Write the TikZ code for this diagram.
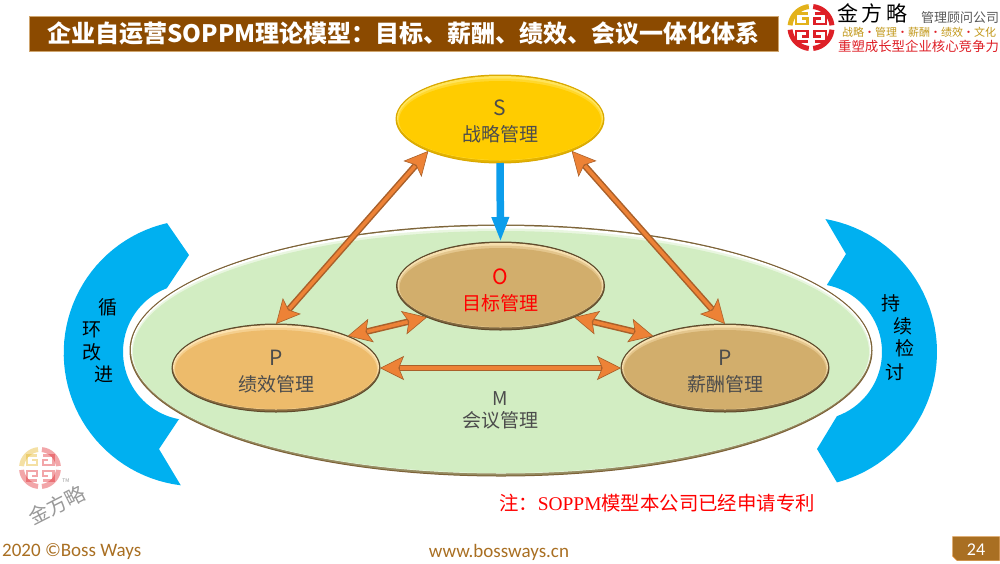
\documentclass[tikz,border=0pt]{standalone}
\usepackage{fontspec}
\setmainfont{Noto Sans CJK SC}
\newfontfamily\footfont{Carlito}
\newfontfamily\notefont{Liberation Serif}
\usetikzlibrary{shapes.geometric,arrows.meta}
\definecolor{barbrown}{HTML}{8B4A00}
\definecolor{baredge}{HTML}{CFA56E}
\definecolor{logogold}{HTML}{E3B21C}
\definecolor{logored}{HTML}{DE2027}
\definecolor{cyanblue}{HTML}{00B0F0}
\definecolor{footbrown}{HTML}{A96F22}
\definecolor{arrlight}{HTML}{ED8236}
\definecolor{arrdark}{HTML}{A9602A}
\definecolor{arrowblue}{HTML}{0C9DEB}
\definecolor{meetgreen}{HTML}{D2EDC2}
\definecolor{meetedge}{HTML}{7D6238}
\definecolor{stratyellow}{HTML}{FFCC00}
\definecolor{stratlight}{HTML}{FFE45C}
\definecolor{stratedge}{HTML}{D9A800}
\definecolor{tan}{HTML}{D2AE6C}
\definecolor{tanlight}{HTML}{F6DFAE}
\definecolor{ovaledge}{HTML}{5E4A2C}
\definecolor{perfgold}{HTML}{EDBB6B}
\definecolor{perflight}{HTML}{FCE2B0}
\newcommand{\ovalhead}[2]{\rule{0pt}{#1pt}{\fontsize{21}{26}\selectfont #2}}
\begin{document}
\begin{tikzpicture}[x=1pt, y=-1pt,
    txt/.style={font=\fontsize{19}{26}\selectfont, align=center, inner sep=0pt},
    bevel/.style n args={5}{ellipse, inner sep=0pt, outer sep=0pt, minimum width=2*#1pt, minimum height=2*#2pt,
      draw=#5, line width=1pt, txt,
      path picture={
        \coordinate (c) at (path picture bounding box.center);
        \fill[#5!70!#3] (path picture bounding box.south west) rectangle (path picture bounding box.north east);
        \fill[#4] ([yshift=1pt]c) ellipse [x radius=#1-1, y radius=#2-2];
        \fill[#3!50!#4] ([yshift=-0.5pt]c) ellipse [x radius=#1-2, y radius=#2-3];
        \fill[#3] ([yshift=-1.5pt]c) ellipse [x radius=#1-3, y radius=#2-4.5];
      }},
    arr/.style={{Stealth[length=24pt,width=24pt,inset=5pt,line width=0.6pt,fill=arrlight]}-{Stealth[length=24pt,width=24pt,inset=5pt,line width=0.6pt,fill=arrlight]},
      draw=arrdark, line width=6.5pt,
      postaction={draw=arrlight, line width=3.5pt, shorten >=20pt, shorten <=20pt, arrows=-}},
    cshape/.style={fill=cyanblue},
    logo/.pic={
      \foreach \sx/\sy/\c in {1/1/logogold,-1/1/logored,1/-1/logored,-1/-1/logored}{
        \begin{scope}[xscale=\sx, yscale=\sy]
          \draw[\c, line width=5pt] plot[domain=186:264, samples=16] ({21*cos(\x)},{21*sin(\x)});
          \draw[\c, line width=2.6pt, line cap=butt] (-3.5,-14) -- (-15,-14) -- (-15,-3.5) -- (-3.5,-3.5) -- (-3.5,-9) -- (-9.5,-9);
        \end{scope}
      }
    }]
    \useasboundingbox (0,0) rectangle (1000,563);

    \node[fill=barbrown, draw=baredge, line width=0.8pt, minimum width=749pt, minimum height=35pt, inner sep=0pt, text=white,
      font=\fontsize{24}{28}\selectfont\bfseries] (title) at (403.5,33.5) {企业自运营SOPPM理论模型：目标、薪酬、绩效、会议一体化体系};

    \pic at (811,27.5) {logo};
    \node[inner sep=0pt, font=\fontsize{21}{24}\selectfont] (brand) at (872,13) {金\,方\,略};
    \node[inner sep=0pt, text=black!65, font=\fontsize{13}{15}\selectfont] (firm) at (960,18) {管理顾问公司};
    \node[inner sep=0pt, text=logogold!85!black, font=\fontsize{11}{13}\selectfont] (slogan) at (919,32) {战略\textcolor{logored}{•}管理\textcolor{logored}{•}薪酬\textcolor{logored}{•}绩效\textcolor{logored}{•}文化};
    \node[inner sep=0pt, text=logored, font=\fontsize{13.4}{15}\selectfont] (motto) at (918.5,46) {重塑成长型企业核心竞争力};

    \begin{scope}[opacity=0.4]
      \pic[scale=0.88] at (40,468) {logo};
    \end{scope}
    \node[inner sep=0pt, text=black!40, rotate=27, font=\fontsize{20}{24}\selectfont] (mark) at (57,505) {金方略};
    \node[inner sep=0pt, text=black!40, font=\fontsize{5}{6}\selectfont] (tm) at (66,481) {TM};

    \fill[cshape] plot[domain=257:97, samples=50] ({197+133.3*cos(\x)},{353+133.3*sin(\x)})
      -- (159,449) -- (179,419)
      -- plot[domain=100:249, samples=40] ({191.3+68.3*cos(\x)},{352+68.3*sin(\x)})
      -- (189,255) -- cycle;
    \fill[cshape] plot[domain=-80:75, samples=50] ({802+135*cos(\x)},{352+135*sin(\x)})
      -- (817,449) -- (837,416)
      -- plot[domain=70:-79, samples=40] ({813.8+68.2*cos(\x)},{352+68.2*sin(\x)})
      -- (846,254) -- cycle;

    \node[txt] (c1) at (108,307) {循};
    \node[txt] (c2) at (92,330) {环};
    \node[txt] (c3) at (92,352) {改};
    \node[txt] (c4) at (104,374) {进};
    \node[txt] (k1) at (891,303) {持};
    \node[txt] (k2) at (903,326) {续};
    \node[txt] (k3) at (905,348) {检};
    \node[txt] (k4) at (895,372) {讨};

    \node[bevel={371}{125.5}{meetgreen}{white}{meetedge}] (ovalM) at (501,350.5) {};
    \node[txt, text=black!70] (labelM) at (500,410) {M\\[-4pt]会议管理};

    \node[bevel={104}{44}{stratyellow}{stratlight}{stratedge}, text=black!70] (ovalS) at (500,119) {\ovalhead{20}{S}\\战略管理};
    \node[bevel={104}{44}{tan}{tanlight}{ovaledge}, text=red] (ovalO) at (500.5,286) {\ovalhead{24}{O}\\目标管理};
    \node[bevel={104}{44}{perfgold}{perflight}{ovaledge}, text=black!70] (ovalP1) at (276,368) {\ovalhead{22}{P}\\绩效管理};
    \node[bevel={104}{44}{tan}{tanlight}{ovaledge}, text=black!70] (ovalP2) at (725,368) {\ovalhead{22}{P}\\薪酬管理};

    \draw[arr] (ovalS.204) -- (ovalP1.90);
    \draw[arr] (ovalS.336) -- (ovalP2.90);
    \draw[arr] (ovalO.203) -- (ovalP1.24);
    \draw[arr] (ovalO.337) -- (ovalP2.156);
    \draw[arr] (ovalP1.east) -- (ovalP2.west);
    \draw[arrowblue, line width=7.5pt, -{Triangle[length=25pt,width=16pt]}] (ovalS.south) -- (ovalO.north);

    \node[inner sep=0pt, text=red, font=\fontsize{19.4}{22}\selectfont] (note) at (657,503) {注：{\notefont SOPPM}模型本公司已经申请专利};

    \node[inner sep=0pt, text=footbrown, anchor=west, font=\footfont\fontsize{19}{22}\selectfont] (year) at (2,552) {2020 ©Boss Ways};
    \node[inner sep=0pt, text=footbrown, font=\footfont\fontsize{19}{22}\selectfont] (web) at (499,552) {www.bossways.cn};
    \fill[footbrown, draw=orange!60!footbrown] (952.5,536.5) -- (999.5,536.5) -- (999.5,560.5) -- (957,560.5) -- (952.5,556) -- cycle;
    \node[inner sep=0pt, text=white, font=\footfont\fontsize{18}{20}\selectfont] (page) at (976,550) {24};
  \end{tikzpicture}
\end{document}
